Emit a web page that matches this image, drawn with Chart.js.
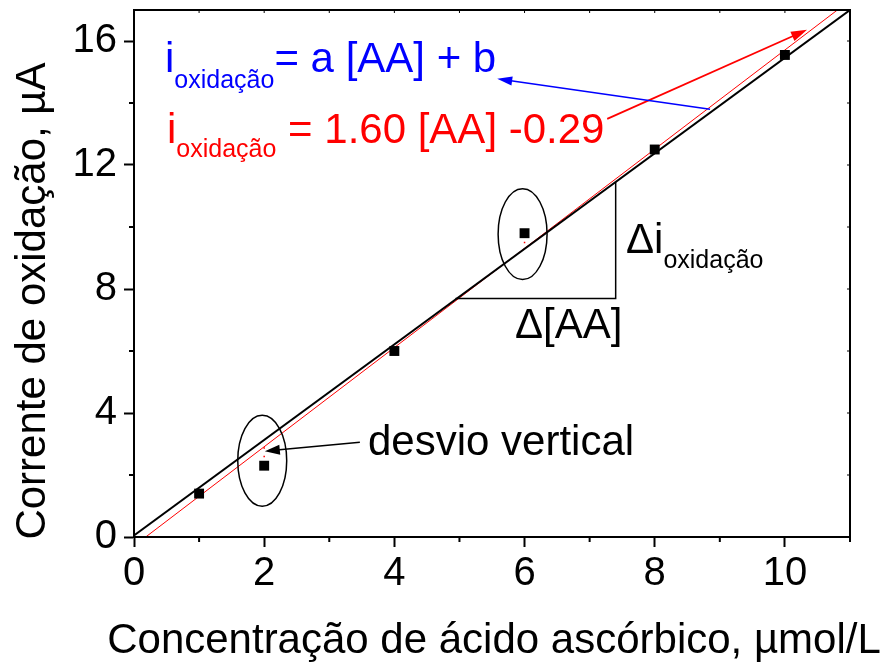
<!DOCTYPE html>
<html>
<head>
<meta charset="utf-8">
<script src="https://cdn.jsdelivr.net/npm/chart.js@4"></script>
<style>
  html, body { margin: 0; padding: 0; background: #fff; }
  #wrap { width: 884px; height: 664px; }
</style>
</head>
<body>
<div id="wrap"><canvas id="grafico" width="884" height="664"></canvas></div>
<script>
// dados
const concentracao = [1, 2, 4, 6, 8, 10];
const corrente = [1.4, 2.3, 6.0, 9.8, 12.5, 15.55];

// reta de ajuste (vermelha) e reta genérica (preta)
const ajusteX = [0.18, 11];
const ajusteY = [0, 17.31];
const retaX = [0, 11];
const retaY = [0.05, 17];

// desvios verticais (pontilhado vermelho)
const desvio1X = [2, 2];
const desvio1Y = [2.3, 2.91];
const desvio2X = [6, 6];
const desvio2Y = [9.8, 9.31];

const xTicks = [0, 2, 4, 6, 8, 10];
const yTicks = [0, 4, 8, 12, 16];
const xMinor = [1, 3, 5, 7, 9, 11];
const yMinor = [2, 6, 10, 14];

const FONT = "'Liberation Sans', Arial, sans-serif";

const pares = (xs, ys) => xs.map((x, i) => ({ x: x, y: ys[i] }));

/* =========================
   ANOTAÇÕES
========================= */
function seta(ctx, x1, y1, x2, y2, cor, larg, cab, meia) {
    const ang = Math.atan2(y2 - y1, x2 - x1);
    ctx.strokeStyle = cor;
    ctx.fillStyle = cor;
    ctx.lineWidth = larg;
    ctx.beginPath();
    ctx.moveTo(x1, y1);
    ctx.lineTo(x2 - Math.cos(ang) * cab * 0.8, y2 - Math.sin(ang) * cab * 0.8);
    ctx.stroke();
    ctx.beginPath();
    ctx.moveTo(x2, y2);
    ctx.lineTo(x2 - Math.cos(ang) * cab + Math.sin(ang) * meia, y2 - Math.sin(ang) * cab - Math.cos(ang) * meia);
    ctx.lineTo(x2 - Math.cos(ang) * cab - Math.sin(ang) * meia, y2 - Math.sin(ang) * cab + Math.cos(ang) * meia);
    ctx.closePath();
    ctx.fill();
}

function texto(ctx, partes, x, y, cor) {
    // partes: [texto, tamanho, deslocamento vertical]
    ctx.fillStyle = cor;
    ctx.textAlign = 'left';
    ctx.textBaseline = 'alphabetic';
    let cx = x;
    partes.forEach(p => {
        ctx.font = p[1] + 'px ' + FONT;
        ctx.fillText(p[0], cx, y + p[2]);
        cx += ctx.measureText(p[0]).width;
    });
}

const anotacoes = {
    id: 'anotacoes',
    afterDraw(chart) {
        const ctx = chart.ctx;
        const xs = chart.scales.x, ys = chart.scales.y;
        const a = chart.chartArea;
        const px = v => xs.getPixelForValue(v);
        const py = v => ys.getPixelForValue(v);
        ctx.save();

        // moldura
        ctx.strokeStyle = '#000';
        ctx.lineWidth = 2;
        ctx.strokeRect(a.left, a.top, a.right - a.left, a.bottom - a.top);

        // ticks menores e espelhados
        ctx.lineWidth = 2;
        ctx.beginPath();
        xMinor.forEach(v => { ctx.moveTo(px(v), a.bottom); ctx.lineTo(px(v), a.bottom + 5); });
        yMinor.forEach(v => { ctx.moveTo(a.left, py(v)); ctx.lineTo(a.left - 5, py(v)); });
        ctx.stroke();
        ctx.lineWidth = 1;
        ctx.beginPath();
        xTicks.concat(xMinor).forEach(v => { ctx.moveTo(px(v), a.top); ctx.lineTo(px(v), a.top + 3); });
        yTicks.concat(yMinor).forEach(v => { ctx.moveTo(a.right, py(v)); ctx.lineTo(a.right - 3, py(v)); });
        ctx.stroke();

        // elipses
        ctx.lineWidth = 1.5;
        ctx.strokeStyle = '#000';
        [[1.97, 2.46], [5.97, 9.77]].forEach(c => {
            ctx.beginPath();
            ctx.ellipse(px(c[0]), py(c[1]), px(0.376) - px(0), py(0) - py(1.465), 0, 0, Math.PI * 2);
            ctx.stroke();
        });

        // triângulo Δ
        ctx.beginPath();
        ctx.moveTo(px(4.94), py(7.69));
        ctx.lineTo(px(7.40), py(7.69));
        ctx.lineTo(px(7.40), py(11.45));
        ctx.stroke();

        // setas
        seta(ctx, px(7.27), py(13.49), px(10.34), py(16.36), '#ff0000', 1.8, 16, 5);
        seta(ctx, px(8.85), py(13.8), px(5.58), py(14.78), '#0000ff', 1.5, 15, 4.5);
        seta(ctx, px(3.47), py(3.06), px(2.01), py(2.77), '#000', 1.5, 15, 5);

        // textos
        texto(ctx, [['i', 42, 0], ['oxidação', 25, 16], ['= a [AA] + b', 42, 0]], 165, 72, '#0000ff');
        texto(ctx, [['i', 42, 0], ['oxidação', 25, 14], [' = 1.60 [AA] -0.29', 42, 0]], 167, 143, '#ff0000');
        texto(ctx, [['Δi', 42, 0], ['oxidação', 25, 15]], 626, 253, '#000');
        texto(ctx, [['Δ[AA]', 42, 0]], 515, 338, '#000');
        texto(ctx, [['desvio vertical', 42, 0]], 368, 455, '#000');

        // títulos dos eixos
        ctx.fillStyle = '#000';
        ctx.font = '42px ' + FONT;
        ctx.textAlign = 'center';
        ctx.textBaseline = 'alphabetic';
        ctx.fillText('Concentração de ácido ascórbico, µmol/L', 494, 653);
        ctx.translate(45, 301);
        ctx.rotate(-Math.PI / 2);
        ctx.fillText('Corrente de oxidação, µA', 0, 0);
        ctx.restore();
    }
};

const eixo = {
    type: 'linear',
    grid: { drawOnChartArea: false, drawTicks: true, tickLength: 10, tickWidth: 2, tickColor: '#000' },
    border: { display: true, width: 2, color: '#000' },
    ticks: { color: '#000', font: { family: FONT, size: 40 }, maxRotation: 0, autoSkip: false }
};

new Chart(document.getElementById('grafico'), {
    type: 'scatter',
    data: {
        datasets: [
            {
                label: 'pontos',
                data: pares(concentracao, corrente),
                pointStyle: 'rect',
                pointRadius: 7,
                backgroundColor: '#000',
                borderColor: '#000',
                borderWidth: 0,
                order: 0
            },
            {
                label: 'reta',
                data: pares(retaX, retaY),
                showLine: true,
                borderColor: '#000',
                borderWidth: 2,
                pointRadius: 0,
                order: 1
            },
            {
                label: 'ajuste',
                data: pares(ajusteX, ajusteY),
                showLine: true,
                borderColor: '#ff0000',
                borderWidth: 1,
                pointRadius: 0,
                order: 2
            },
            {
                label: 'desvio1',
                data: pares(desvio1X, desvio1Y),
                showLine: true,
                borderColor: '#ff0000',
                borderWidth: 1.5,
                borderDash: [1.5, 7],
                pointRadius: 0,
                order: 3
            },
            {
                label: 'desvio2',
                data: pares(desvio2X, desvio2Y),
                showLine: true,
                borderColor: '#ff0000',
                borderWidth: 1.5,
                borderDash: [1.5, 7],
                pointRadius: 0,
                order: 3
            }
        ]
    },
    options: {
        responsive: false,
        animation: false,
        layout: { padding: { top: 10, right: 34, left: 0, bottom: 0 } },
        plugins: { legend: { display: false }, tooltip: { enabled: false } },
        scales: {
            x: Object.assign({}, eixo, {
                position: 'bottom',
                min: 0, max: 11,
                ticks: Object.assign({}, eixo.ticks, { padding: 3 }),
                afterBuildTicks: s => { s.ticks = xTicks.map(v => ({ value: v })); },
                afterFit: s => { s.height = 127; s.paddingLeft = 0; s.paddingRight = 0; }
            }),
            y: Object.assign({}, eixo, {
                position: 'left',
                min: 0, max: 17,
                ticks: Object.assign({}, eixo.ticks, { padding: 7 }),
                afterBuildTicks: s => { s.ticks = yTicks.map(v => ({ value: v })); },
                afterFit: s => { s.width = 134; s.paddingTop = 0; s.paddingBottom = 0; }
            })
        }
    },
    plugins: [anotacoes]
});
</script>
</body>
</html>
